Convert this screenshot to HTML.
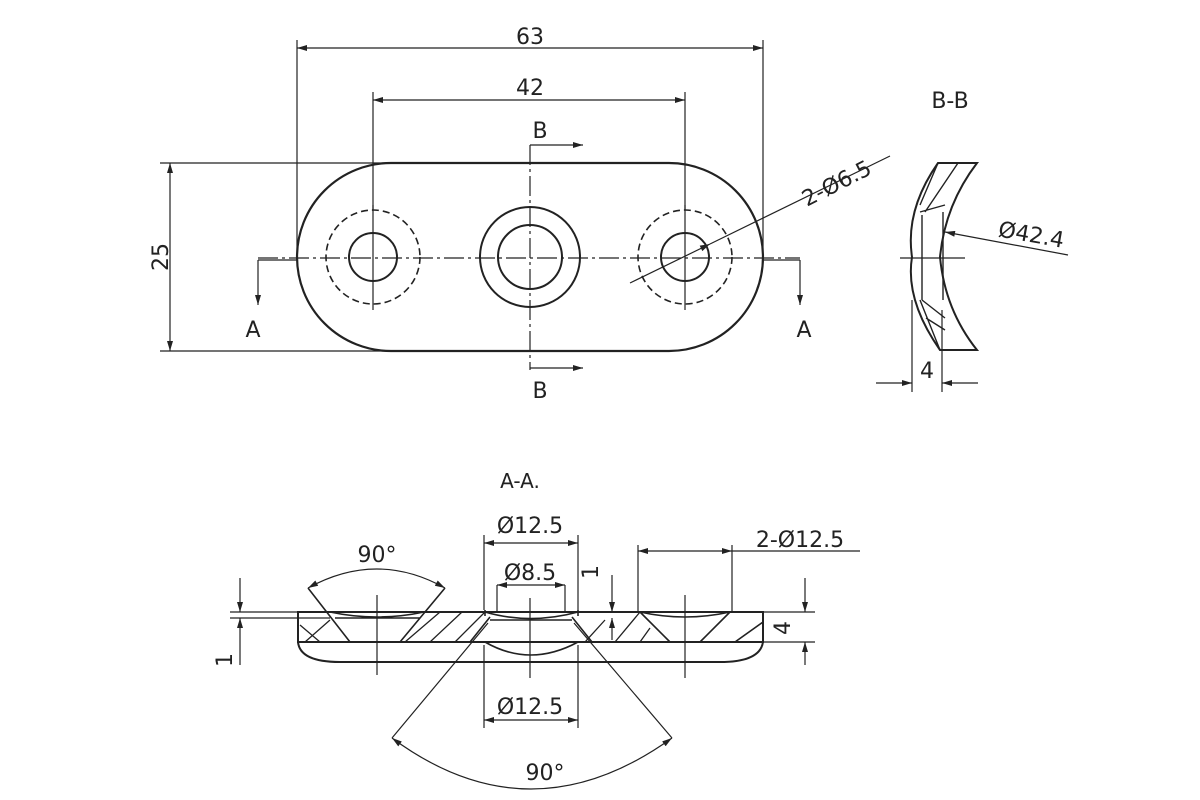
<!DOCTYPE html>
<html><head><meta charset="utf-8"><style>
html,body{margin:0;padding:0;background:#fff;}
svg{display:block}
text{font-family:"DejaVu Sans","Liberation Sans",sans-serif;fill:#222;}
</style></head><body>
<svg width="1200" height="800" viewBox="0 0 1200 800" xmlns="http://www.w3.org/2000/svg">
<defs>
<marker id="a" viewBox="0 0 10 6" refX="10" refY="3" markerWidth="14" markerHeight="6" orient="auto-start-reverse" markerUnits="userSpaceOnUse"><path d="M0,0 L10,3 L0,6z" fill="#222"/></marker>
</defs>
<rect width="1200" height="800" fill="#fff"/>
<g stroke="#222" fill="none" stroke-width="1.6">
<!-- top view outline -->
<path d="M391,163 H669 A94,94 0 0 1 669,351 H391 A94,94 0 0 1 391,163 Z" stroke-width="2.2"/>
<circle cx="373" cy="257" r="24" stroke-width="2"/>
<circle cx="373" cy="257" r="47" stroke-dasharray="7,4"/>
<circle cx="530" cy="257" r="32" stroke-width="2"/>
<circle cx="530" cy="257" r="50" stroke-width="2"/>
<circle cx="685" cy="257" r="24" stroke-width="2"/>
<circle cx="685" cy="257" r="47" stroke-dasharray="7,4"/>
<!-- center lines -->
<line x1="258" y1="258" x2="800" y2="258" stroke-width="1.2" stroke-dasharray="20,4,3,4"/>
<line x1="373" y1="205" x2="373" y2="310" stroke-width="1.2"/>
<line x1="685" y1="205" x2="685" y2="310" stroke-width="1.2"/>
<line x1="530" y1="145" x2="530" y2="370" stroke-width="1.2" stroke-dasharray="20,4,3,4"/>
<!-- dim 63 -->
<line x1="297" y1="40" x2="297" y2="255" stroke-width="1.2"/>
<line x1="763" y1="40" x2="763" y2="255" stroke-width="1.2"/>
<line x1="297" y1="48" x2="763" y2="48" stroke-width="1.2" marker-start="url(#a)" marker-end="url(#a)"/>
<!-- dim 42 -->
<line x1="373" y1="92" x2="373" y2="210" stroke-width="1.2"/>
<line x1="685" y1="92" x2="685" y2="210" stroke-width="1.2"/>
<line x1="373" y1="100" x2="685" y2="100" stroke-width="1.2" marker-start="url(#a)" marker-end="url(#a)"/>
<!-- dim 25 -->
<line x1="160" y1="163" x2="385" y2="163" stroke-width="1.2"/>
<line x1="160" y1="351" x2="385" y2="351" stroke-width="1.2"/>
<line x1="170" y1="163" x2="170" y2="351" stroke-width="1.2" marker-start="url(#a)" marker-end="url(#a)"/>
<!-- section A -->
<line x1="258" y1="260" x2="297" y2="260" stroke-width="1.2"/>
<line x1="258" y1="260" x2="258" y2="305" stroke-width="1.2" marker-end="url(#a)"/>
<line x1="763" y1="260" x2="800" y2="260" stroke-width="1.2"/>
<line x1="800" y1="260" x2="800" y2="305" stroke-width="1.2" marker-end="url(#a)"/>
<!-- section B -->
<line x1="530" y1="145" x2="583" y2="145" stroke-width="1.2" marker-end="url(#a)"/>
<line x1="530" y1="368" x2="583" y2="368" stroke-width="1.2" marker-end="url(#a)"/>
<!-- leader 2-phi6.5 -->
<line x1="630" y1="283" x2="710" y2="244" stroke-width="1.2" marker-end="url(#a)"/>
<line x1="710" y1="244" x2="890" y2="156" stroke-width="1.2"/>

<!-- B-B -->
<path d="M938,163 H977 Q945,205 940,257 Q945,310 977,350 H940 Q905,300 912,257 Q905,210 938,163 Z" stroke-width="2"/>
<path d="M938,163 L920,205 M958,163 L925,212 M920,212 L945,205 M922,215 V300 M943,212 V300 M922,300 L945,318 M926,318 L945,330 M920,300 L940,350" stroke-width="1.4"/>
<line x1="900" y1="258" x2="965" y2="258" stroke-width="1.2"/>
<line x1="912" y1="300" x2="912" y2="392" stroke-width="1.2"/>
<line x1="942" y1="310" x2="942" y2="392" stroke-width="1.2"/>
<line x1="876" y1="383" x2="912" y2="383" stroke-width="1.2" marker-end="url(#a)"/>
<line x1="978" y1="383" x2="942" y2="383" stroke-width="1.2" marker-end="url(#a)"/>
<line x1="1068" y1="255" x2="945" y2="232" stroke-width="1.2" marker-end="url(#a)"/>

<!-- A-A section -->
<rect x="298" y="612" width="465" height="30" stroke-width="2"/>
<path d="M298,642 Q300,662 340,662 H720 Q760,662 763,642" stroke-width="2"/>
<line x1="230" y1="612" x2="815" y2="612" stroke-width="1.2"/>
<line x1="230" y1="618" x2="330" y2="618" stroke-width="1.2"/>
<!-- left countersink -->
<path d="M308,588 L350,642 M445,588 L400,642 M330,612 Q377,622 424,612 M335,618 H420" stroke-width="1.6"/>
<path d="M305,642 L330,620 M320,642 L300,625" stroke-width="1.3"/>
<!-- hatching -->
<path d="M405,642 L440,612 M430,642 L462,612 M455,642 L485,612 M585,642 L605,620 M615,642 L640,612 M640,642 L650,628" stroke-width="1.3"/>
<!-- right countersink -->
<path d="M640,612 L670,642 M730,612 L700,642 M640,612 Q685,622 730,612 M735,642 L763,622" stroke-width="1.6"/>
<!-- middle -->
<path d="M485,612 Q530,625 578,612 M490,620 H572 M490,617 L470,642 M572,617 L592,642 M485,642 Q530,668 578,642 M485,610 V616 M578,610 V616" stroke-width="1.6"/>
<path d="M488,623 L392,738 M574,623 L672,738" stroke-width="1.2"/>
<path d="M392,738 Q530,840 672,738" stroke-width="1.2" marker-start="url(#a)" marker-end="url(#a)"/>
<path d="M308,588 Q377,550 445,588" stroke-width="1.2" marker-start="url(#a)" marker-end="url(#a)"/>
<!-- center lines -->
<line x1="377" y1="595" x2="377" y2="675" stroke-width="1.2"/>
<line x1="530" y1="598" x2="530" y2="678" stroke-width="1.2"/>
<line x1="685" y1="595" x2="685" y2="678" stroke-width="1.2"/>
<!-- dims -->
<line x1="484" y1="535" x2="484" y2="610" stroke-width="1.2"/>
<line x1="578" y1="535" x2="578" y2="610" stroke-width="1.2"/>
<line x1="484" y1="543" x2="578" y2="543" stroke-width="1.2" marker-start="url(#a)" marker-end="url(#a)"/>
<line x1="497" y1="585" x2="497" y2="612" stroke-width="1.2"/>
<line x1="565" y1="585" x2="565" y2="612" stroke-width="1.2"/>
<line x1="497" y1="585" x2="565" y2="585" stroke-width="1.2" marker-start="url(#a)" marker-end="url(#a)"/>
<line x1="484" y1="645" x2="484" y2="728" stroke-width="1.2"/>
<line x1="578" y1="645" x2="578" y2="728" stroke-width="1.2"/>
<line x1="484" y1="720" x2="578" y2="720" stroke-width="1.2" marker-start="url(#a)" marker-end="url(#a)"/>
<line x1="638" y1="545" x2="638" y2="612" stroke-width="1.2"/>
<line x1="732" y1="545" x2="732" y2="612" stroke-width="1.2"/>
<line x1="638" y1="551" x2="732" y2="551" stroke-width="1.2" marker-start="url(#a)" marker-end="url(#a)"/>
<line x1="732" y1="551" x2="860" y2="551" stroke-width="1.2"/>
<!-- 1 dim right-middle -->
<line x1="612" y1="575" x2="612" y2="612" stroke-width="1.2" marker-end="url(#a)"/>
<line x1="612" y1="640" x2="612" y2="618" stroke-width="1.2" marker-end="url(#a)"/>
<!-- 1 dim left -->
<line x1="240" y1="578" x2="240" y2="612" stroke-width="1.2" marker-end="url(#a)"/>
<line x1="240" y1="665" x2="240" y2="618" stroke-width="1.2" marker-end="url(#a)"/>
<!-- 4 dim -->
<line x1="763" y1="642" x2="815" y2="642" stroke-width="1.2"/>
<line x1="805" y1="578" x2="805" y2="612" stroke-width="1.2" marker-end="url(#a)"/>
<line x1="805" y1="665" x2="805" y2="642" stroke-width="1.2" marker-end="url(#a)"/>
</g>
<g font-size="22">
<text x="530" y="44" text-anchor="middle">63</text>
<text x="530" y="95" text-anchor="middle">42</text>
<text x="160" y="257" text-anchor="middle" transform="rotate(-90 160 257)" dy="8">25</text>
<text x="253" y="337" text-anchor="middle">A</text>
<text x="804" y="337" text-anchor="middle">A</text>
<text x="540" y="138" text-anchor="middle">B</text>
<text x="540" y="398" text-anchor="middle">B</text>
<text x="840" y="190" text-anchor="middle" transform="rotate(-27 840 190)">2-Ø6.5</text>
<text x="950" y="108" text-anchor="middle">B-B</text>
<text x="1030" y="242" text-anchor="middle" transform="rotate(10 1030 242)">Ø42.4</text>
<text x="927" y="378" text-anchor="middle">4</text>
<text x="520" y="488" text-anchor="middle" font-size="20">A-A.</text>
<text x="530" y="533" text-anchor="middle">Ø12.5</text>
<text x="530" y="580" text-anchor="middle">Ø8.5</text>
<text x="530" y="714" text-anchor="middle">Ø12.5</text>
<text x="800" y="547" text-anchor="middle">2-Ø12.5</text>
<text x="377" y="562" text-anchor="middle">90°</text>
<text x="545" y="780" text-anchor="middle">90°</text>
<text x="598" y="572" text-anchor="middle" transform="rotate(-90 598 572)">1</text>
<text x="232" y="660" text-anchor="middle" transform="rotate(-90 232 660)">1</text>
<text x="790" y="628" text-anchor="middle" transform="rotate(-90 790 628)" dy="0">4</text>
</g>
</svg>
</body></html>
